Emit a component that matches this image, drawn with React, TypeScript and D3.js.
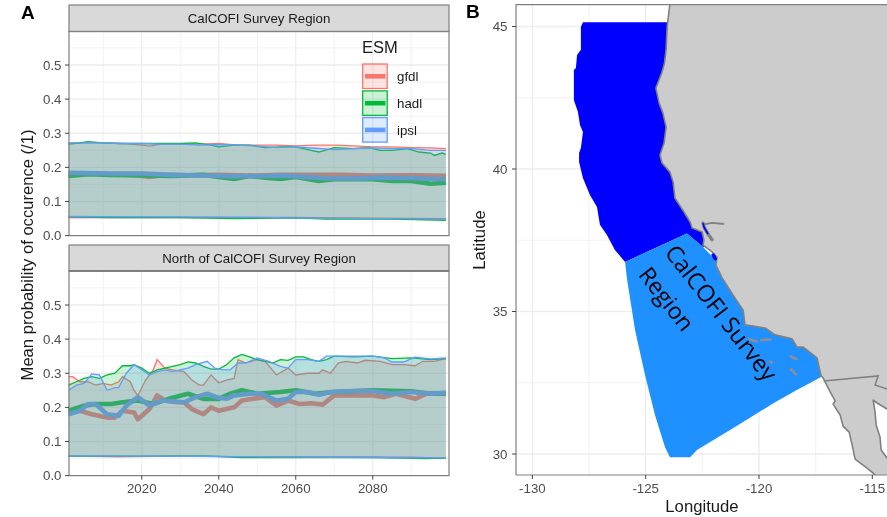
import React from "react";
import * as d3 from "d3";

type S = [number, number][];

// Panel A: CalCOFI Survey Region (year, probability)
const calGfdlUpper: S = [[2001,.27],[2005,.272],[2010,.272],[2015,.27],[2020,.265],[2022,.262],[2025,.268],[2030,.268],[2035,.268],[2040,.27],[2045,.265],[2050,.265],[2055,.265],[2060,.263],[2065,.265],[2070,.265],[2075,.263],[2080,.26],[2085,.26],[2090,.258],[2095,.257],[2099,.255]];
const calHadlUpper: S = [[2001,.268],[2003,.27],[2006,.275],[2010,.272],[2014,.27],[2020,.27],[2025,.27],[2030,.27],[2034,.272],[2038,.265],[2040,.26],[2044,.265],[2048,.265],[2052,.258],[2056,.26],[2060,.26],[2064,.25],[2066,.245],[2070,.258],[2075,.255],[2079,.258],[2082,.25],[2085,.25],[2089,.255],[2092,.245],[2095,.242],[2096,.235],[2098,.242],[2099,.238]];
const calIpslUpper: S = [[2001,.272],[2005,.272],[2010,.272],[2015,.27],[2020,.27],[2025,.268],[2030,.268],[2035,.265],[2040,.267],[2045,.265],[2050,.262],[2055,.258],[2060,.26],[2065,.256],[2070,.252],[2075,.255],[2080,.257],[2085,.255],[2090,.255],[2095,.25],[2099,.25]];
const calGfdlMean: S = [[2001,.18],[2006,.182],[2012,.18],[2018,.178],[2022,.172],[2026,.178],[2032,.177],[2040,.178],[2048,.176],[2056,.178],[2064,.178],[2072,.178],[2080,.176],[2090,.177],[2099,.175]];
const calHadlMean: S = [[2001,.175],[2006,.18],[2012,.178],[2020,.176],[2028,.175],[2036,.178],[2040,.172],[2044,.166],[2048,.175],[2052,.17],[2056,.166],[2060,.172],[2066,.16],[2070,.165],[2075,.165],[2080,.165],[2085,.16],[2090,.16],[2095,.152],[2099,.155]];
const calIpslMean: S = [[2001,.184],[2006,.183],[2012,.182],[2020,.182],[2028,.178],[2036,.176],[2044,.174],[2050,.174],[2056,.176],[2062,.172],[2068,.168],[2075,.167],[2082,.17],[2090,.168],[2099,.165]];
const calGfdlLower: S = [[2001,.053],[2020,.053],[2040,.053],[2060,.053],[2080,.051],[2099,.05]];
const calHadlLower: S = [[2001,.055],[2012,.053],[2030,.053],[2045,.05],[2060,.052],[2068,.048],[2085,.048],[2099,.045]];
const calIpslLower: S = [[2001,.056],[2020,.055],[2040,.054],[2060,.052],[2080,.05],[2099,.048]];

// Panel A: North of CalCOFI Survey Region
const norGfdlUpper: S = [[2001,.29],[2002,.29],[2004,.275],[2006,.275],[2008,.265],[2010,.27],[2012,.265],[2014,.275],[2015,.29],[2017,.275],[2018,.25],[2019,.235],[2021,.28],[2023,.31],[2024,.34],[2026,.315],[2028,.31],[2031,.305],[2033,.28],[2035,.265],[2036,.265],[2038,.295],[2040,.272],[2042,.28],[2044,.285],[2045,.34],[2047,.33],[2050,.34],[2052,.335],[2055,.295],[2058,.315],[2060,.295],[2063,.3],[2066,.3],[2067,.31],[2069,.3],[2071,.33],[2073,.335],[2076,.33],[2078,.338],[2082,.335],[2085,.325],[2088,.325],[2091,.322],[2093,.335],[2096,.335],[2099,.343]];
const norHadlUpper: S = [[2001,.265],[2003,.275],[2005,.285],[2007,.29],[2009,.285],[2011,.295],[2013,.3],[2015,.322],[2017,.322],[2018,.325],[2020,.315],[2022,.3],[2024,.31],[2026,.315],[2028,.32],[2030,.325],[2032,.333],[2034,.33],[2036,.32],[2038,.312],[2040,.312],[2042,.325],[2044,.345],[2046,.355],[2048,.348],[2050,.34],[2052,.335],[2054,.33],[2056,.34],[2058,.338],[2060,.348],[2062,.348],[2064,.34],[2066,.335],[2068,.34],[2070,.35],[2075,.348],[2080,.35],[2085,.343],[2090,.345],[2095,.34],[2099,.343]];
const norIpslUpper: S = [[2001,.25],[2003,.265],[2005,.27],[2007,.298],[2009,.295],[2011,.25],[2013,.258],[2014,.258],[2016,.3],[2018,.325],[2020,.31],[2022,.295],[2024,.305],[2026,.31],[2028,.305],[2030,.31],[2032,.315],[2034,.325],[2037,.335],[2039,.315],[2041,.31],[2043,.31],[2045,.33],[2047,.33],[2050,.345],[2053,.335],[2056,.32],[2058,.315],[2060,.34],[2063,.34],[2066,.335],[2068,.35],[2070,.35],[2075,.35],[2080,.35],[2083,.345],[2085,.333],[2088,.333],[2091,.347],[2095,.342],[2099,.345]];
const norGfdlMean: S = [[2001,.19],[2004,.19],[2007,.18],[2011,.17],[2013,.17],[2015,.19],[2018,.185],[2019,.165],[2022,.195],[2024,.235],[2026,.22],[2029,.215],[2031,.215],[2033,.195],[2036,.18],[2038,.2],[2040,.19],[2044,.2],[2046,.22],[2049,.225],[2052,.23],[2055,.205],[2058,.22],[2061,.21],[2064,.212],[2067,.208],[2070,.235],[2074,.235],[2080,.235],[2083,.23],[2086,.24],[2091,.225],[2094,.24],[2099,.242]];
const norHadlMean: S = [[2001,.19],[2005,.205],[2008,.21],[2012,.21],[2015,.215],[2019,.22],[2023,.21],[2027,.225],[2032,.24],[2036,.225],[2040,.225],[2043,.24],[2046,.25],[2050,.24],[2056,.245],[2060,.25],[2065,.24],[2070,.245],[2080,.25],[2090,.247],[2095,.24],[2099,.24]];
const norIpslMean: S = [[2001,.18],[2004,.19],[2006,.21],[2008,.21],[2011,.18],[2014,.175],[2016,.205],[2019,.23],[2022,.205],[2025,.22],[2028,.218],[2031,.215],[2034,.23],[2037,.24],[2040,.228],[2042,.225],[2044,.235],[2048,.24],[2051,.24],[2055,.22],[2058,.225],[2060,.245],[2063,.245],[2066,.237],[2069,.245],[2075,.248],[2080,.248],[2085,.24],[2090,.245],[2095,.24],[2099,.243]];
const norGfdlLower: S = [[2001,.057],[2014,.055],[2030,.057],[2050,.055],[2070,.055],[2090,.054],[2099,.051]];
const norHadlLower: S = [[2001,.057],[2020,.057],[2036,.058],[2046,.053],[2060,.053],[2080,.053],[2094,.05],[2099,.051]];
const norIpslLower: S = [[2001,.058],[2020,.057],[2040,.056],[2060,.054],[2080,.053],[2099,.052]];

const esmNames = ["gfdl", "hadl", "ipsl"];
const esmColors = ["#F8766D", "#00BA38", "#619CFF"];
const yTicks = [0, 0.1, 0.2, 0.3, 0.4, 0.5];
const yMinor = [0.05, 0.15, 0.25, 0.35, 0.45, 0.55];
const xTicks = [2020, 2040, 2060, 2080];
const xMinor = [2010, 2030, 2050, 2070, 2090];

// Panel B: map, [longitude, latitude]
const northRegion: S = [[-127.77,45.15],[-127.86,44.98],[-127.86,44.18],[-128.03,44],[-128.08,43.54],[-128.17,43.47],[-128.17,42.42],[-127.99,42],[-127.9,41.54],[-127.77,41.3],[-127.86,40.74],[-127.94,40.56],[-127.94,40.25],[-127.77,39.68],[-127.46,39.09],[-127.15,38.67],[-127.02,38.04],[-126.71,37.68],[-126.36,37.16],[-125.91,36.74],[-123.18,37.74],[-122.47,37.26],[-121.72,37.33],[-122.6,40.67],[-123.04,45.15]];
const calcofiRegion: S = [[-125.91,36.74],[-123.18,37.74],[-122.47,37.26],[-121.4,36.4],[-120.2,35.2],[-119,34.6],[-117,33.6],[-116.95,32.86],[-117.26,32.7],[-118.41,32.21],[-119.29,31.82],[-121.06,30.95],[-122.74,30.14],[-123.04,29.89],[-123.93,29.89],[-124.15,30.25],[-124.59,31.37],[-125.03,32.77],[-125.47,34.35],[-125.82,36.11]];
const coast: S = [[-123.9,46],[-124.05,45.02],[-124.1,44.18],[-124.17,43.72],[-124.28,43.4],[-124.55,42.84],[-124.41,42.32],[-124.24,41.96],[-124.1,41.47],[-124.19,40.91],[-124.37,40.49],[-124.28,40.21],[-123.93,39.89],[-123.79,39.54],[-123.71,38.98],[-123.31,38.49],[-123.04,38.14],[-122.95,37.93],[-122.51,37.79],[-122.43,37.51],[-122.47,37.33],[-122.07,37.09],[-121.85,36.91],[-121.9,36.63],[-121.63,36.18],[-121.15,35.58],[-120.7,35.05],[-120.62,34.53],[-119.73,34.42],[-119.29,34.18],[-118.54,34.04],[-118.32,33.75],[-118.05,33.75],[-117.44,33.37],[-117.26,32.74],[-117.17,32.67],[-116.86,32.18],[-116.64,31.86],[-116.73,31.75],[-116.42,31.37],[-116.29,30.98],[-116.02,30.77],[-115.89,30.32],[-115.76,29.82],[-115.36,29.58],[-114.96,29.33],[-114.66,29.09],[-113,29],[-113,46]];
const usMexBorder: S = [[-117.15,32.56],[-114.74,32.74],[-114.88,32.42],[-114.35,32.28],[-113.77,32.14]];
const gulf: S = [[-114.96,31.89],[-114.79,31.79],[-114.35,31.58],[-113.77,31.37],[-113.77,29.44],[-114.35,29.86],[-114.61,30.14],[-114.66,30.6],[-114.83,31.02],[-114.88,31.47]];
const sfBay: S = [[-122.47,38.1],[-122.42,37.95],[-122.25,37.72],[-122.07,37.52]];
const delta: S = [[-122.43,38.06],[-122.07,38.11],[-121.54,38.07]];
const montereyPatch: S = [[-122.02,36.98],[-121.93,36.85]];
const islands: S[] = [[[-120.42,34.03],[-120.1,33.95]],[[-119.9,34.0],[-119.5,34.02]],[[-119.5,33.24],[-119.42,33.22]],[[-118.6,33.42],[-118.35,33.33]],[[-118.6,32.98],[-118.38,32.8]]];
const lonTicks = [-130, -125, -120, -115];
const lonMinor = [-127.5, -122.5, -117.5];
const latTicks = [30, 35, 40, 45];
const latMinor = [32.5, 37.5, 42.5];

const SANS = "'Liberation Sans', Arial, sans-serif";
const GRID = "#EDEDED";
const BORDER = "#7F7F7F";
const TICK = "#4D4D4D";
const TICK_SIZE = 13.3;
const TITLE_SIZE = 16.7;

const x = d3.scaleLinear().domain([2001.1, 2099.7]).range([69, 448.6]);

function Panel({ title, stripTop, top, bottom, lines, showX }: { title: string; stripTop: number; top: number; bottom: number; lines: { up: S; mean: S; lo: S }[]; showX: boolean }) {
  const y = d3.scaleLinear().domain([0, 0.5]).range([bottom, bottom - 170.6]);
  const line = d3.line<[number, number]>().x((d) => x(d[0])).y((d) => y(d[1]));
  const years = d3.range(2001, 2100);
  const interp = (s: S, yr: number) => {
    const i = d3.bisector((d: [number, number]) => d[0]).left(s, yr);
    if (i <= 0) return s[0][1];
    const a = s[i - 1], b = s[i];
    return a[1] + ((b[1] - a[1]) * (yr - a[0])) / (b[0] - a[0]);
  };
  const area = (up: S, lo: S) =>
    d3.area<number>().x((d) => x(d)).y0((d) => y(interp(lo, d))).y1((d) => y(interp(up, d)))(years) as string;
  return (
    <g>
      <rect x={69} y={stripTop} width={380} height={top - stripTop} fill="#D9D9D9" stroke={BORDER} strokeWidth={1.2} />
      <text x={259} y={stripTop + 18} fontSize={13.3} textAnchor="middle" fill="#1A1A1A" fontFamily={SANS}>{title}</text>
      {yMinor.map((t) => <line key={t} x1={69} x2={449} y1={y(t)} y2={y(t)} stroke={GRID} strokeWidth={0.7} />)}
      {xMinor.map((t) => <line key={t} x1={x(t)} x2={x(t)} y1={top} y2={bottom} stroke={GRID} strokeWidth={0.7} />)}
      {yTicks.map((t) => <line key={t} x1={69} x2={449} y1={y(t)} y2={y(t)} stroke={GRID} strokeWidth={1.3} />)}
      {xTicks.map((t) => <line key={t} x1={x(t)} x2={x(t)} y1={top} y2={bottom} stroke={GRID} strokeWidth={1.3} />)}
      {lines.map((l, i) => <path key={i} d={line(l.mean) as string} fill="none" stroke={esmColors[i]} strokeWidth={4.6} strokeLinejoin="round" />)}
      {lines.map((l, i) => (
        <g key={i}>
          <path d={area(l.up, l.lo)} fill={esmColors[i]} fillOpacity={0.2} />
          <path d={line(l.up) as string} fill="none" stroke={esmColors[i]} strokeWidth={1.3} />
          <path d={line(l.lo) as string} fill="none" stroke={esmColors[i]} strokeWidth={1.3} />
        </g>
      ))}
      <line x1={69} x2={449} y1={top} y2={top} stroke="#555" strokeWidth={1.2} />
      <rect x={69} y={top} width={380} height={bottom - top} fill="none" stroke={BORDER} strokeWidth={1.2} />
      {yTicks.map((t) => (
        <g key={t}>
          <line x1={65} x2={69} y1={y(t)} y2={y(t)} stroke="#444" strokeWidth={1} />
          <text x={61.5} y={y(t) + 4.8} fontSize={TICK_SIZE} textAnchor="end" fill={TICK} fontFamily={SANS}>{t.toFixed(1)}</text>
        </g>
      ))}
      {showX && xTicks.map((t) => (
        <g key={t}>
          <line x1={x(t)} x2={x(t)} y1={bottom} y2={bottom + 4} stroke="#444" strokeWidth={1} />
          <text x={x(t)} y={bottom + 17.5} fontSize={TICK_SIZE} textAnchor="middle" fill={TICK} fontFamily={SANS}>{t}</text>
        </g>
      ))}
    </g>
  );
}

function Legend() {
  const keyY = [64, 90.9, 117.6];
  return (
    <g fontFamily={SANS}>
      <text x={362} y={53} fontSize={16.5} fill="#1A1A1A">ESM</text>
      {esmNames.map((n, i) => (
        <g key={n}>
          <rect x={362.7} y={keyY[i]} width={24.5} height={24.5} fill={esmColors[i]} fillOpacity={0.2} stroke={esmColors[i]} strokeWidth={1.3} />
          <line x1={365} x2={385.5} y1={keyY[i] + 12.3} y2={keyY[i] + 12.3} stroke={esmColors[i]} strokeWidth={4.6} />
          <text x={397} y={keyY[i] + 17.3} fontSize={13.3} fill="#1A1A1A">{n}</text>
        </g>
      ))}
    </g>
  );
}

function MapPanel() {
  const lon = d3.scaleLinear().domain([-130, -115]).range([532.4, 872.3]);
  const lat = d3.scaleLinear().domain([30, 45]).range([454, 26.5]);
  const L = { l: 516, r: 890, t: 4.7, b: 475 };
  const open = d3.line<[number, number]>().x((d) => lon(d[0])).y((d) => lat(d[1]));
  const closed = (s: S) => (open(s) as string) + "Z";
  return (
    <g fontFamily={SANS}>
      <defs><clipPath id="mapClip"><rect x={L.l} y={L.t} width={L.r - L.l} height={L.b - L.t} /></clipPath></defs>
      <g clipPath="url(#mapClip)">
        {lonMinor.map((t) => <line key={t} x1={lon(t)} x2={lon(t)} y1={L.t} y2={L.b} stroke={GRID} strokeWidth={0.7} />)}
        {latMinor.map((t) => <line key={t} x1={L.l} x2={L.r} y1={lat(t)} y2={lat(t)} stroke={GRID} strokeWidth={0.7} />)}
        {lonTicks.map((t) => <line key={t} x1={lon(t)} x2={lon(t)} y1={L.t} y2={L.b} stroke={GRID} strokeWidth={1.3} />)}
        {latTicks.map((t) => <line key={t} x1={L.l} x2={L.r} y1={lat(t)} y2={lat(t)} stroke={GRID} strokeWidth={1.3} />)}
        <path d={closed(northRegion)} fill="#0000FF" />
        <path d={closed(calcofiRegion)} fill="#1E90FF" />
        <path d={closed(coast)} fill="#CCCCCC" stroke="#808080" strokeWidth={1.6} strokeLinejoin="round" />
        <path d={closed(gulf)} fill="#FFFFFF" stroke="#808080" strokeWidth={1.6} strokeLinejoin="round" />
        <path d={open(usMexBorder) as string} fill="none" stroke="#808080" strokeWidth={1.5} />
        <path d={open(delta) as string} fill="none" stroke="#808080" strokeWidth={1.8} />
        <path d={open(sfBay) as string} fill="none" stroke="#808080" strokeWidth={3.4} strokeLinecap="round" />
        <path d={open(sfBay.slice(0, 3)) as string} fill="none" stroke="#0000FF" strokeWidth={1.6} />
        <path d={open(montereyPatch) as string} fill="none" stroke="#0000FF" strokeWidth={3.5} strokeLinecap="round" />
        {islands.map((s, i) => <path key={i} d={open(s) as string} fill="none" stroke="#8F8F8F" strokeWidth={2.6} strokeLinecap="round" />)}
      </g>
      <path d={`M${L.l},${L.b}V${L.t}H887`} fill="none" stroke={BORDER} strokeWidth={1.2} />
      <path d={`M${L.l},${L.b}H887`} fill="none" stroke={BORDER} strokeWidth={1.2} />
      {latTicks.map((t) => (
        <g key={t}>
          <line x1={L.l - 4} x2={L.l} y1={lat(t)} y2={lat(t)} stroke="#444" />
          <text x={L.l - 8.5} y={lat(t) + 4.8} fontSize={TICK_SIZE} textAnchor="end" fill={TICK}>{t}</text>
        </g>
      ))}
      {lonTicks.map((t) => (
        <g key={t}>
          <line x1={lon(t)} x2={lon(t)} y1={L.b} y2={L.b + 4} stroke="#444" />
          <text x={lon(t)} y={L.b + 17.5} fontSize={TICK_SIZE} textAnchor="middle" fill={TICK}>{t}</text>
        </g>
      ))}
      <text x={702} y={512} fontSize={TITLE_SIZE} textAnchor="middle" fill="#1A1A1A">Longitude</text>
      <text transform="translate(485,240) rotate(-90)" fontSize={TITLE_SIZE} textAnchor="middle" fill="#1A1A1A">Latitude</text>
      <text transform="translate(714.6,318) rotate(52)" fontSize={23.5} textAnchor="middle" fill="#000" fontFamily="'Open Sans', sans-serif">CalCOFI Survey</text>
      <text transform="translate(660,304) rotate(52)" fontSize={23} textAnchor="middle" fill="#000" fontFamily="'Open Sans', sans-serif">Region</text>
    </g>
  );
}

export default function App() {
  const cal = [
    { up: calGfdlUpper, mean: calGfdlMean, lo: calGfdlLower },
    { up: calHadlUpper, mean: calHadlMean, lo: calHadlLower },
    { up: calIpslUpper, mean: calIpslMean, lo: calIpslLower },
  ];
  const nor = [
    { up: norGfdlUpper, mean: norGfdlMean, lo: norGfdlLower },
    { up: norHadlUpper, mean: norHadlMean, lo: norHadlLower },
    { up: norIpslUpper, mean: norIpslMean, lo: norIpslLower },
  ];
  return (
    <svg width={887} height={517} style={{ position: "absolute", left: 0, top: 0, background: "#fff", filter: "blur(0.35px)" }}>
      <Panel title="CalCOFI Survey Region" stripTop={5} top={31.5} bottom={235.6} lines={cal} showX={false} />
      <Panel title="North of CalCOFI Survey Region" stripTop={245} top={271} bottom={475.6} lines={nor} showX={true} />
      <Legend />
      <MapPanel />
      <text transform="translate(32.5,255) rotate(-90)" fontSize={16.6} textAnchor="middle" fill="#1A1A1A" fontFamily={SANS}>Mean probability of occurence (/1)</text>
      <text x={21} y={18.5} fontSize={19} fontWeight="bold" fontFamily={SANS} fill="#000">A</text>
      <text x={466} y={18} fontSize={19} fontWeight="bold" fontFamily={SANS} fill="#000">B</text>
    </svg>
  );
}
